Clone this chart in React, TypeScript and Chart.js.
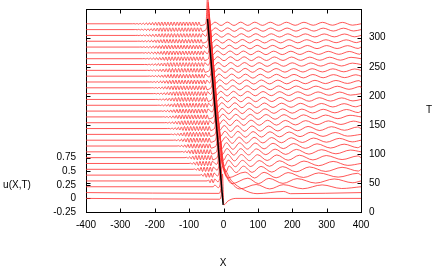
import React, { useEffect, useRef } from 'react';
import { Chart, registerables } from 'chart.js';

Chart.register(...registerables);

// ---- Data ----
// Time levels of the stacked curves (one curve every T = 10)
const T_LEVELS = [0, 10, 20, 30, 40, 50, 60, 70, 80, 90, 100, 110, 120, 130, 140, 150, 160, 170, 180, 190, 200, 210, 220, 230, 240, 250, 260, 270, 280, 290, 300];
// vertical shift of each curve in u units per unit of T (waterfall offset)
const OFFSET_PER_T = 0.0107;

// X position of the soliton peak for each curve
const SOLITON_X = [-3, -4.5, -6, -7.5, -9, -10.5, -12, -13, -14.5, -16, -17.5, -19, -20.5, -22, -23.5, -25, -26, -27.5, -29, -30.5, -32, -33.5, -35, -36.5, -38, -39, -40.5, -42, -43.5, -45, -46.5];
// soliton peak height (u)
const SPIKE_HEIGHT = [0.45, 0.48, 0.5, 0.5, 0.5, 0.5, 0.5, 0.5, 0.5, 0.5, 0.5, 0.5, 0.5, 0.5, 0.5, 0.5, 0.5, 0.5, 0.5, 0.5, 0.5, 0.5, 0.5, 0.5, 0.5, 0.5, 0.5, 0.5, 0.5, 0.5, 0.5];
// width of the trailing tail behind the soliton (X units)
const TAIL_WIDTH = [0, 28, 14, 8, 5, 4, 3, 2.5, 2, 2, 1.5, 1.5, 1, 1, 1, 1, 1, 1, 1, 1, 1, 1, 1, 1, 1, 1, 1, 1, 1, 1, 1];
// depth of the dip right after the soliton (u)
const DIP_DEPTH = [-0.12, -0.02, -0.04, -0.05, -0.05, -0.05, -0.05, -0.05, -0.05, -0.05, -0.045, -0.045, -0.045, -0.04, -0.04, -0.04, -0.04, -0.04, -0.035, -0.035, -0.035, -0.035, -0.035, -0.035, -0.035, -0.035, -0.035, -0.035, -0.035, -0.035, -0.035];

// X where the short ripples ahead (left) of the soliton start
const RIPPLE_START = [null, null, -30, -48, -68, -88, -100, -112, -124, -135, -145, -155, -163, -171, -178, -185, -192, -198, -204, -210, -215, -220, -225, -230, -235, -240, -245, -250, -255, -260, -265];
const RIPPLE_AMP = [0, 0, 0.03, 0.035, 0.04, 0.04, 0.04, 0.04, 0.04, 0.039, 0.039, 0.038, 0.038, 0.038, 0.037, 0.037, 0.037, 0.036, 0.036, 0.036, 0.035, 0.035, 0.035, 0.035, 0.034, 0.034, 0.034, 0.034, 0.033, 0.033, 0.033];
const RIPPLE_HALF_WAVE = 4.5;

// crest positions of the waves behind (right of) the soliton
const RIGHT_CRESTS: number[][] = [
  [],
  [175],
  [40, 95, 174, 287],
  [25, 71, 132, 214, 322],
  [20, 63, 118, 188, 277, 390],
  [16, 58, 109, 172, 250, 345],
  [14, 55, 104, 163, 234, 319],
  [12, 52, 99, 155, 221, 299, 391],
  [10, 50, 96, 150, 212, 285, 369],
  [8, 47, 92, 144, 204, 272, 351],
  [6, 45, 89, 140, 197, 262, 337],
  [4, 42, 86, 135, 191, 254, 325],
  [2, 40, 83, 131, 185, 246, 314, 390],
  [0, 38, 80, 128, 180, 239, 305, 378],
  [-2, 36, 78, 124, 176, 233, 297, 368],
  [-4, 34, 75, 121, 172, 228, 290, 358],
  [-5, 33, 74, 119, 169, 224, 285, 351],
  [-7, 30, 71, 116, 165, 219, 279, 344],
  [-8, 29, 70, 115, 163, 216, 275, 338],
  [-10, 27, 68, 112, 160, 212, 269, 331, 399],
  [-11, 26, 66, 110, 158, 210, 266, 327, 394],
  [-13, 24, 64, 107, 154, 205, 260, 320, 385],
  [-14, 23, 63, 106, 153, 204, 258, 318, 382],
  [-16, 21, 61, 104, 150, 200, 254, 312, 375],
  [-17, 20, 60, 102, 148, 198, 251, 309, 371],
  [-18, 19, 58, 101, 146, 196, 248, 305, 366],
  [-20, 17, 56, 98, 143, 192, 244, 300, 361],
  [-21, 15, 55, 97, 142, 190, 242, 298, 357],
  [-23, 13, 52, 94, 139, 187, 238, 293, 352],
  [-24, 12, 51, 93, 137, 185, 236, 290, 349],
  [-25, 11, 50, 91, 136, 183, 234, 288, 346],
];
const RIGHT_AMP_NEAR = [0, 0.025, 0.045, 0.055, 0.06, 0.062, 0.062, 0.062, 0.062, 0.062, 0.06, 0.058, 0.056, 0.054, 0.052, 0.05, 0.048, 0.046, 0.044, 0.042, 0.041, 0.04, 0.039, 0.038, 0.037, 0.036, 0.035, 0.034, 0.033, 0.032, 0.031];
const RIGHT_AMP_FAR = [0, 0.015, 0.03, 0.032, 0.032, 0.032, 0.032, 0.031, 0.03, 0.03, 0.029, 0.029, 0.028, 0.028, 0.028, 0.027, 0.027, 0.026, 0.026, 0.026, 0.025, 0.025, 0.025, 0.025, 0.025, 0.025, 0.025, 0.025, 0.025, 0.025, 0.025];

// black soliton trajectory line (X, u)
const TRAJECTORY_X = [-46.5, -1];
const TRAJECTORY_U = [3.3, -0.12];

// axis ticks
const X_TICKS = [-400, -300, -200, -100, 0, 100, 200, 300, 400];
const U_TICKS = [-0.25, 0, 0.25, 0.5, 0.75];
const T_TICKS = [0, 50, 100, 150, 200, 250, 300];

const FONT_FAMILY = '"Liberation Sans", Arial, Helvetica, sans-serif';

function buildCurve(k: number) {
  const base = T_LEVELS[k] * OFFSET_PER_T;
  const xs = SOLITON_X[k];
  const H = SPIKE_HEIGHT[k];
  const pts: { x: number; y: number }[] = [];
  const push = (x: number, u: number) => pts.push({ x, y: base + u });
  push(-400, 0);
  const rs = RIPPLE_START[k];
  const re = xs - 16;
  if (rs !== null && rs < re - 4) {
    push(rs, 0);
    let sign = 1;
    for (let x = rs + RIPPLE_HALF_WAVE; x < re; x += RIPPLE_HALF_WAVE) {
      const f = Math.min(1, (x - rs) / ((re - rs) * 0.4));
      push(x, sign * RIPPLE_AMP[k] * f);
      sign = -sign;
    }
  }
  push(xs - 9, -0.015);
  push(xs - 4, 0.04);
  push(xs, H);
  const w = TAIL_WIDTH[k];
  if (w > 3) {
    push(xs + w, H * 0.45);
    push(xs + 2.2 * w, H * 0.12);
  }
  const dipX = xs + 3.5 * w + 4;
  push(dipX, DIP_DEPTH[k]);
  const crests = RIGHT_CRESTS[k];
  const amp = (x: number) => {
    const f = Math.max(0, Math.min(1, x / 400));
    return RIGHT_AMP_NEAR[k] + (RIGHT_AMP_FAR[k] - RIGHT_AMP_NEAR[k]) * f;
  };
  if (crests.length === 0) {
    push(dipX + 12, DIP_DEPTH[k] * 0.4);
    push(dipX + 35, 0);
    push(400, 0);
    return pts;
  }
  let prev: number | null = null;
  let lastGap = 40;
  for (const c of crests) {
    if (prev === null) {
      if (c <= dipX + 8) continue;
    } else {
      const mid = (prev + c) / 2;
      push(mid, -amp(mid));
      lastGap = c - prev;
    }
    push(c, amp(c));
    prev = c;
  }
  if (prev !== null) {
    const tr = prev + lastGap / 2;
    if (tr < 400) push(tr, -amp(tr));
  }
  push(400, 0);
  return pts;
}

const framePlugin = {
  id: 'gnuFrame',
  beforeDatasetsDraw(chart: any) {
    const { ctx, chartArea: a, scales } = chart;
    ctx.save();
    ctx.strokeStyle = '#000';
    ctx.lineWidth = 1;
    const L = Math.round(a.left) + 0.5;
    const R = Math.round(a.right) + 0.5;
    const Tp = Math.round(a.top) + 0.5;
    const B = Math.round(a.bottom) + 0.5;
    ctx.strokeRect(L, Tp, R - L, B - Tp);
    const TL = 4;
    ctx.beginPath();
    for (const v of X_TICKS) {
      const px = Math.round(scales.x.getPixelForValue(v)) + 0.5;
      ctx.moveTo(px, B); ctx.lineTo(px, B - TL);
      ctx.moveTo(px, Tp); ctx.lineTo(px, Tp + TL);
    }
    for (const v of U_TICKS) {
      const py = Math.round(scales.y.getPixelForValue(v)) + 0.5;
      ctx.moveTo(L, py); ctx.lineTo(L + TL, py);
    }
    for (const v of T_TICKS) {
      const py = Math.round(scales.y2.getPixelForValue(v)) + 0.5;
      ctx.moveTo(R, py); ctx.lineTo(R - TL, py);
      ctx.moveTo(L, py); ctx.lineTo(L + TL, py);
    }
    ctx.stroke();
    ctx.fillStyle = '#000';
    ctx.font = '10px ' + FONT_FAMILY;
    ctx.textBaseline = 'middle';
    ctx.textAlign = 'center';
    ctx.fillText('u(X,T)', 17, 185);
    ctx.fillText('T', 429, 110);
    ctx.fillText('X', 223, 263);
    ctx.restore();
  },
};

export default function App() {
  const ref = useRef<HTMLCanvasElement | null>(null);
  useEffect(() => {
    const canvas = ref.current;
    if (!canvas) return;
    const datasets: any[] = [
      {
        data: TRAJECTORY_X.map((x, i) => ({ x, y: TRAJECTORY_U[i] })),
        borderColor: '#000',
        borderWidth: 1.5,
        pointRadius: 0,
        fill: false,
        tension: 0,
        clip: false,
        order: 0,
      },
    ];
    for (let k = 0; k < T_LEVELS.length; k++) {
      datasets.push({
        data: buildCurve(k),
        borderColor: 'rgb(255,45,45)',
        borderWidth: 0.8,
        pointRadius: 0,
        fill: false,
        cubicInterpolationMode: 'monotone',
        clip: false,
        order: 1,
      });
    }
    const tickFont = { family: FONT_FAMILY, size: 10 };
    const vFit = (w: number) => (s: any) => { s.width = w; s.paddingTop = 0; s.paddingBottom = 0; };
    const chart = new Chart(canvas, {
      type: 'line',
      data: { datasets },
      options: {
        animation: false,
        responsive: false,
        devicePixelRatio: 1,
        events: [],
        layout: { padding: { top: 8.5, left: 0, right: 0, bottom: 0 } },
        plugins: { legend: { display: false }, tooltip: { enabled: false } },
        scales: {
          x: {
            type: 'linear',
            min: -400,
            max: 400,
            afterBuildTicks: (s: any) => { s.ticks = X_TICKS.map((v) => ({ value: v })); },
            afterFit: (s: any) => { s.height = 61; s.paddingLeft = 0; s.paddingRight = 0; },
            grid: { display: false, drawTicks: false },
            border: { display: false },
            ticks: { font: tickFont, color: '#000', padding: 7, maxRotation: 0, autoSkip: false, callback: (v: any) => String(v) },
          },
          y: {
            type: 'linear',
            position: 'left',
            min: -0.25,
            max: 3.491,
            afterBuildTicks: (s: any) => { s.ticks = U_TICKS.map((v) => ({ value: v })); },
            afterFit: vFit(86),
            grid: { display: false, drawTicks: false },
            border: { display: false },
            ticks: { font: tickFont, color: '#000', padding: 10, autoSkip: false, callback: (v: any) => String(v) },
          },
          y2: {
            type: 'linear',
            position: 'right',
            min: 0,
            max: 350.3,
            afterBuildTicks: (s: any) => { s.ticks = T_TICKS.map((v) => ({ value: v })); },
            afterFit: vFit(75),
            grid: { display: false, drawTicks: false },
            border: { display: false },
            ticks: { font: tickFont, color: '#000', padding: 8, autoSkip: false, callback: (v: any) => String(v) },
          },
        },
      },
      plugins: [framePlugin],
    } as any);
    return () => chart.destroy();
  }, []);
  return (
    <div style={{ position: 'fixed', left: 0, top: 0, width: 436, height: 273, background: '#fff' }}>
      <canvas ref={ref} width={436} height={273} style={{ display: 'block', width: 436, height: 273 }} />
    </div>
  );
}
